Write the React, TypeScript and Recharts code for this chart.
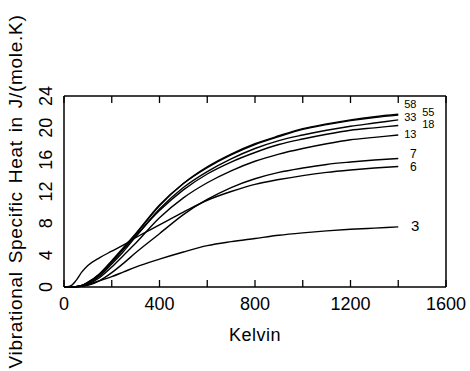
import { LineChart, Line, XAxis, YAxis } from "recharts";

// temperature grid (K)
const kelvin = [0, 25, 50, 75, 100, 150, 200, 250, 300, 400, 500, 600, 700, 800, 900, 1000, 1100, 1200, 1300, 1400];

// vibrational heat capacity J/(mole.K)
const cv3 = [0, 0, 0.03, 0.12, 0.3, 0.8, 1.3, 1.9, 2.5, 3.5, 4.4, 5.2, 5.7, 6.1, 6.5, 6.8, 7.05, 7.25, 7.4, 7.55];
const cv6 = [0, 0.1, 0.8, 1.9, 2.7, 3.7, 4.5, 5.3, 6.2, 7.8, 9.4, 10.9, 12.0, 12.9, 13.5, 14.0, 14.4, 14.7, 14.95, 15.15];
const cv7 = [0, 0, 0.02, 0.08, 0.2, 0.8, 1.8, 3.0, 4.3, 6.7, 9.1, 11.0, 12.5, 13.6, 14.4, 14.95, 15.4, 15.7, 15.95, 16.15];
const cv13 = [0, 0, 0.03, 0.12, 0.35, 1.2, 2.5, 4.0, 5.5, 8.7, 11.2, 13.1, 14.6, 15.8, 16.7, 17.4, 18.0, 18.5, 18.8, 19.1];
const cv18 = [0, 0, 0.05, 0.2, 0.55, 1.6, 3.2, 4.8, 6.4, 9.6, 12.2, 14.2, 15.7, 16.9, 17.9, 18.6, 19.2, 19.7, 20.0, 20.3];
const cv33 = [0, 0, 0.04, 0.15, 0.45, 1.4, 2.9, 4.5, 6.3, 9.8, 12.5, 14.5, 16.1, 17.4, 18.4, 19.1, 19.7, 20.2, 20.6, 21.0];
const cv55 = [0, 0, 0.05, 0.2, 0.6, 1.7, 3.3, 5.0, 6.7, 10.3, 13.0, 15.0, 16.6, 17.9, 18.9, 19.8, 20.4, 20.9, 21.3, 21.6];
const cv58 = [0, 0, 0.05, 0.2, 0.55, 1.6, 3.1, 4.8, 6.6, 10.2, 13.0, 15.1, 16.7, 18.0, 19.0, 19.9, 20.5, 21.0, 21.4, 21.7];

const xLabelTicks = [0, 400, 800, 1200, 1600];
const xMinorTicks = [0, 200, 400, 600, 800, 1000, 1200, 1400, 1600];
const yLabelTicks = [0, 4, 8, 12, 16, 20, 24];
const yMinorTicks = [0, 2, 4, 6, 8, 10, 12, 14, 16, 18, 20, 22, 24];

const FONT = "'Liberation Sans', Arial, sans-serif";

const rows = kelvin.map((t, i) => ({
  t,
  s3: cv3[i],
  s6: cv6[i],
  s7: cv7[i],
  s13: cv13[i],
  s18: cv18[i],
  s33: cv33[i],
  s55: cv55[i],
  s58: cv58[i],
}));

// label placement next to the last point of each curve
const series = [
  { key: "s3", name: "3", dx: 17, dy: -1, size: 15 },
  { key: "s6", name: "6", dx: 15, dy: 0, size: 12 },
  { key: "s7", name: "7", dx: 15, dy: -5, size: 12 },
  { key: "s13", name: "13", dx: 12, dy: -1, size: 11 },
  { key: "s18", name: "18", dx: 30, dy: -1, size: 11 },
  { key: "s33", name: "33", dx: 12, dy: -3, size: 11 },
  { key: "s55", name: "55", dx: 30, dy: -3, size: 11 },
  { key: "s58", name: "58", dx: 12, dy: -10, size: 11 },
];

const noTick = () => <g />;

function XTick({ x, y, payload }: any) {
  return (
    <text x={x} y={y} dy="0.71em" textAnchor="middle" fontSize={18} fontFamily={FONT} fill="#000">
      {payload.value}
    </text>
  );
}

function YTick({ x, y, payload }: any) {
  return (
    <text
      x={x}
      y={y}
      dy="0.35em"
      textAnchor="middle"
      fontSize={18}
      fontFamily={FONT}
      fill="#000"
      transform={`rotate(-90, ${x}, ${y})`}
    >
      {payload.value}
    </text>
  );
}

function endLabel(name: string, dx: number, dy: number, size: number) {
  return (props: any) => {
    if (props.index !== kelvin.length - 1) return null;
    return (
      <text
        x={props.x + dx}
        y={props.y + dy}
        dy="0.35em"
        textAnchor="middle"
        fontSize={size}
        fontFamily={FONT}
        fill="#000"
      >
        {name}
      </text>
    );
  };
}

export default function App() {
  return (
    <div style={{ position: "absolute", left: 0, top: 0, width: 470, height: 371, background: "#fff" }}>
      <LineChart
        width={470}
        height={371}
        data={rows}
        margin={{ top: 96, right: 24, bottom: 54, left: 34 }}
      >
        <XAxis
          dataKey="t"
          type="number"
          domain={[0, 1600]}
          ticks={xLabelTicks}
          height={30}
          tickSize={0}
          tickMargin={10}
          tick={<XTick />}
          axisLine={{ stroke: "#000", strokeWidth: 1.5 }}
          tickLine={false}
          label={{
            content: (p: any) => (
              <text
                x={p.viewBox.x + p.viewBox.width / 2}
                y={335}
                dy="0.35em"
                textAnchor="middle"
                fontSize={18}
                letterSpacing={0.5}
                fontFamily={FONT}
                fill="#000"
              >
                Kelvin
              </text>
            ),
          }}
        />
        <XAxis
          xAxisId="bm"
          dataKey="t"
          type="number"
          domain={[0, 1600]}
          ticks={xMinorTicks}
          mirror
          tickSize={7}
          tick={noTick}
          axisLine={false}
          tickLine={{ stroke: "#000", strokeWidth: 1.3 }}
        />
        <XAxis
          xAxisId="top"
          orientation="top"
          dataKey="t"
          type="number"
          domain={[0, 1600]}
          ticks={xMinorTicks}
          mirror
          tickSize={7}
          tick={noTick}
          axisLine={{ stroke: "#000", strokeWidth: 1.5 }}
          tickLine={{ stroke: "#000", strokeWidth: 1.3 }}
        />
        <YAxis
          type="number"
          domain={[0, 24]}
          ticks={yLabelTicks}
          width={30}
          tickSize={0}
          tickMargin={18}
          tick={<YTick />}
          axisLine={{ stroke: "#000", strokeWidth: 1.5 }}
          tickLine={false}
          label={{
            content: (p: any) => (
              <text
                x={15}
                y={p.viewBox.y + p.viewBox.height / 2}
                dy="0.35em"
                textAnchor="middle"
                fontSize={19}
                letterSpacing={0.7}
                wordSpacing={2}
                fontFamily={FONT}
                fill="#000"
                transform={`rotate(-90, 15, ${p.viewBox.y + p.viewBox.height / 2})`}
              >
                Vibrational Specific Heat in J/(mole.K)
              </text>
            ),
          }}
        />
        <YAxis
          yAxisId="lm"
          type="number"
          domain={[0, 24]}
          ticks={yMinorTicks}
          mirror
          tickSize={7}
          tick={noTick}
          axisLine={false}
          tickLine={{ stroke: "#000", strokeWidth: 1.3 }}
        />
        <YAxis
          yAxisId="right"
          orientation="right"
          type="number"
          domain={[0, 24]}
          ticks={yMinorTicks}
          mirror
          tickSize={7}
          tick={noTick}
          axisLine={{ stroke: "#000", strokeWidth: 1.5 }}
          tickLine={{ stroke: "#000", strokeWidth: 1.3 }}
        />
        {series.map((s) => (
          <Line
            key={s.key}
            dataKey={s.key}
            type="monotone"
            stroke="#000"
            strokeWidth={1.4}
            dot={false}
            isAnimationActive={false}
            label={endLabel(s.name, s.dx, s.dy, s.size)}
          />
        ))}
      </LineChart>
    </div>
  );
}
